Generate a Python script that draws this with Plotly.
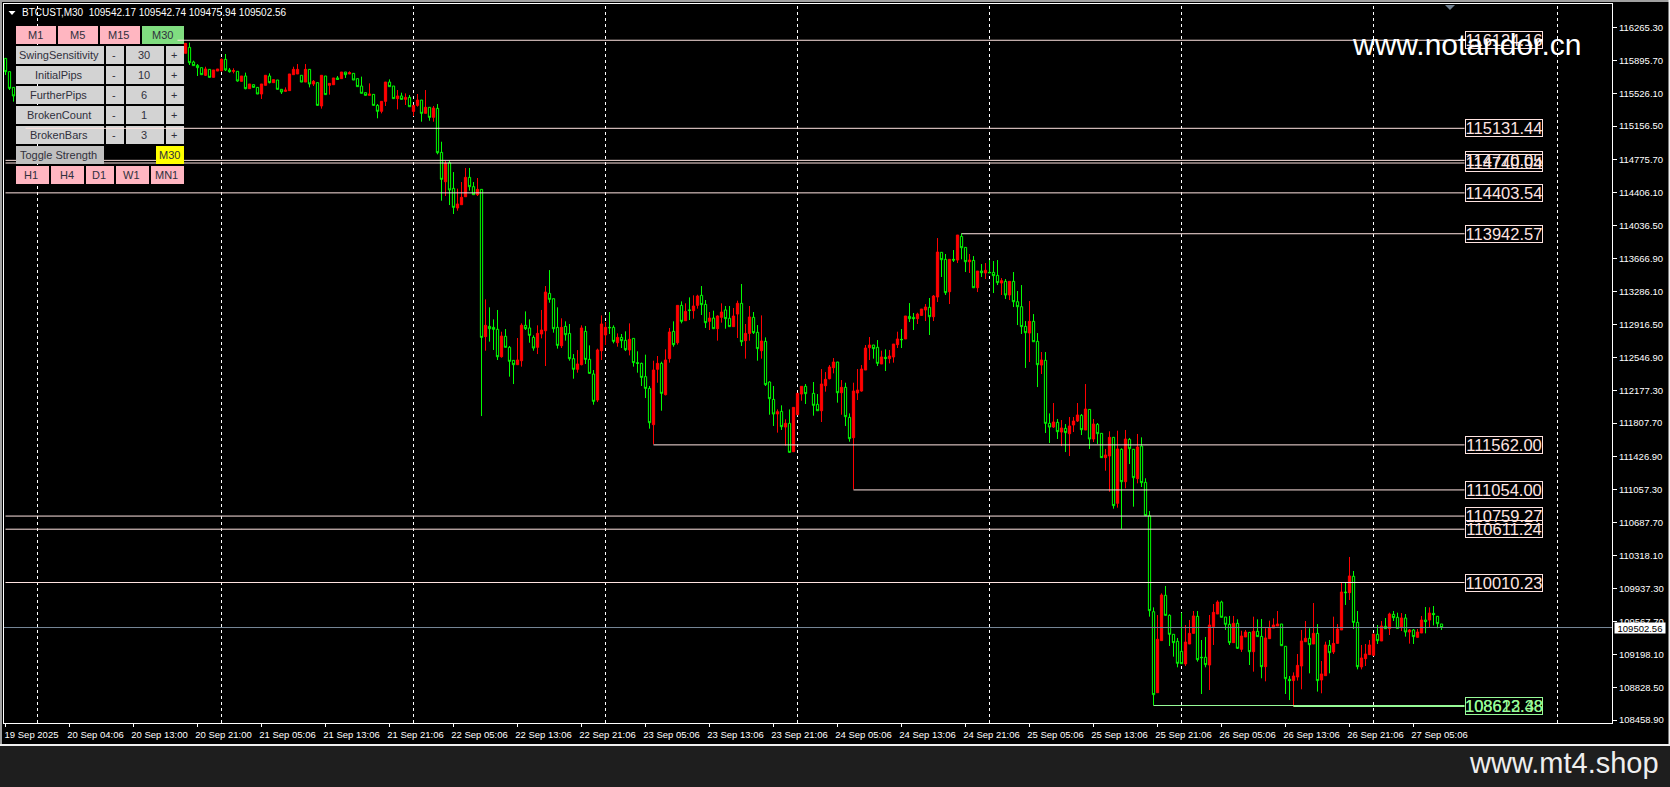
import plotly.graph_objects as go

# bars hidden behind the button panel (4-45) are not in the arrays
bar_no = [1, 2, 3] + list(range(46, 361))

opens = [
    115920, 115770, 115593,
    115977, 116044, 115879, 115841, 115815, 115729, 115796, 115706, 115777, 115781,
    115909, 115789, 115774, 115774, 115661, 115721, 115578, 115623, 115593, 115518,
    115616, 115721, 115646, 115676, 115571, 115548, 115556, 115736, 115744, 115729,
    115653, 115796, 115631, 115646, 115383, 115721, 115616, 115623, 115699, 115691,
    115766, 115744, 115751, 115691, 115608, 115533, 115503, 115514, 115390, 115323,
    115435, 115653, 115608, 115466, 115496, 115458, 115480, 115322, 115390, 115450,
    115300, 115368, 115255, 115356, 114860, 114529, 114744, 114454, 114233, 114270,
    114360, 114578, 114473, 114383, 114443, 112782, 112898, 112887, 112865, 112556,
    112786, 112662, 112515, 112466, 112511, 112910, 112880, 112774, 112662, 112812,
    112849, 113270, 113210, 112887, 112680, 112898, 112819, 112534, 112414, 112466,
    112842, 112526, 112361, 112068, 112624, 112801, 112887, 112887, 112714, 112774,
    112741, 112632, 112763, 112489, 112481, 112331, 112199, 111790, 112414, 112481,
    112128, 112534, 112842, 112714, 113135, 112962, 113083, 113075, 113135, 113248,
    113146, 112955, 112992, 112872, 113000, 113083, 112989, 112895, 113037, 113158,
    112737, 112819, 113000, 112831, 112624, 112729, 112271, 112075, 111910, 111940,
    111763, 111805, 111485, 111902, 112135, 112222, None, 112143, 112019, 111947,
    112229, 112308, 112432, 112496, 112150, 112211, 111872, 111643, 112147, 112169,
    112406, 112658, 112688, 112662, 112474, 112549, 112534, 112553, 112692, 112752,
    112756, 113011, 113000, 112985, 113022, 113083, 113113, 113007, 113229, 113733,
    113654, 113289, 113654, 113646, 113913, 113789, 113627, 113642, 113334, 113522,
    113500, 113507, 113507, 113473, 113387, 113406, 113252, 113406, 113176, 113120,
    112898, 112823, 112955, 112729, 112462, 112515, 111805, 111763, 111816, 111707,
    111748, 111688, 111786, 111831, 111895, 111730, 111962, 111628, 111793, 111692,
    111418, 111437, 111647, 110903, 111512, 111147, 111624, 111512, 111181, 111549,
    111140, 110764, 109681, 108768, 109355, 109866, 109640, 109426, 109347, 109234,
    109092, 109317, 109437, 109629, 109167, 109167, 109080, 109512, 109655, 109790,
    109621, 109539, 109332, 109550, 109257, 109396, 109448, 109230, 109460, 109403,
    109061, 109377, 109497, 109520, 109542, 109291, 108919, 108904, 108945, 109069,
    109343, 109381, 109317, 109437, 108911, 108960, 109302, 109227, 109324, 109475,
    109903, 109896, 110080, 109561, 109058, 109152, 109197, 109189, 109426, 109351,
    109516, 109490, 109651, 109618, 109501, 109610, 109452, 109475, 109392, 109441,
    109587, 109587, 109662, 109629, 109542.17,
]
highs = [
    115920, 115770, 115593,
    116089, 116097, 115894, 115856, 115815, 115826, 115796, 115789, 115800, 115920,
    115969, 115811, 115808, 115774, 115721, 115759, 115631, 115623, 115593, 115631,
    115729, 115751, 115680, 115676, 115571, 115593, 115744, 115826, 115856, 115729,
    115856, 115796, 115676, 115646, 115729, 115721, 115638, 115699, 115721, 115766,
    115766, 115774, 115751, 115691, 115714, 115533, 115638, 115514, 115405, 115435,
    115653, 115683, 115608, 115563, 115533, 115525, 115507, 115390, 115518, 115450,
    115563, 115368, 115383, 115405, 114980, 114766, 114766, 114638, 114451, 114526,
    114684, 114684, 114526, 114571, 114443, 113203, 113113, 112977, 113083, 112838,
    112868, 112677, 112515, 112767, 112932, 113067, 112977, 112797, 112910, 113083,
    113353, 113533, 113210, 113113, 112989, 112955, 112925, 112586, 112631, 112910,
    112902, 112684, 112406, 112647, 113022, 112947, 113060, 112910, 112819, 112812,
    112842, 112932, 112763, 112617, 112489, 112579, 112226, 112511, 112564, 112500,
    112639, 112880, 112955, 113135, 113180, 113158, 113225, 113248, 113255, 113353,
    113195, 113060, 113075, 113022, 113158, 113128, 113128, 113105, 113188, 113376,
    112925, 113128, 113060, 112913, 113022, 112774, 112278, 112226, 111962, 112008,
    111850, 111962, 111985, 112143, 112222, 112248, None, 112271, 112135, 112417,
    112383, 112462, 112541, 112496, 112293, 112263, 111917, 112263, 112417, 112462,
    112688, 112778, 112688, 112744, 112624, 112639, 112632, 112699, 112838, 112868,
    113015, 113161, 113049, 113052, 113094, 113150, 113218, 113252, 113894, 113733,
    113714, 113654, 113759, 113928, 113947, 113789, 113714, 113691, 113522, 113601,
    113612, 113646, 113635, 113646, 113443, 113432, 113406, 113511, 113297, 113364,
    112958, 113184, 113037, 112823, 112609, 112609, 111917, 112034, 111854, 111842,
    111797, 111876, 111876, 112034, 111910, 112248, 111962, 111854, 111808, 111692,
    111516, 111715, 111647, 111722, 111523, 111730, 111640, 111512, 111685, 111647,
    111185, 110816, 109730, 109644, 109888, 109971, 109651, 109426, 109385, 109670,
    109531, 109588, 109689, 109689, 109362, 109396, 109644, 109768, 109809, 109805,
    109621, 109633, 109633, 109595, 109467, 109475, 109448, 109625, 109595, 109599,
    109494, 109580, 109606, 109689, 109542, 109291, 108956, 108997, 109204, 109475,
    109576, 109494, 109779, 109542, 109125, 109343, 109362, 109625, 109542, 110008,
    110008, 110298, 110140, 109689, 109306, 109317, 109362, 109430, 109531, 109576,
    109610, 109670, 109689, 109670, 109666, 109655, 109486, 109486, 109486, 109633,
    109734, 109730, 109745, 109629, 109542.74,
]
lows = [
    115732, 115563, 115432,
    115977, 115845, 115838, 115721, 115736, 115721, 115706, 115706, 115777, 115770,
    115777, 115759, 115751, 115657, 115661, 115571, 115578, 115593, 115518, 115462,
    115616, 115638, 115646, 115571, 115518, 115541, 115556, 115736, 115744, 115653,
    115653, 115593, 115608, 115390, 115353, 115511, 115511, 115623, 115683, 115691,
    115699, 115744, 115676, 115601, 115526, 115503, 115503, 115390, 115244, 115300,
    115383, 115601, 115466, 115345, 115458, 115394, 115375, 115270, 115375, 115206,
    115300, 115217, 115206, 114838, 114315, 114368, 114266, 114165, 114202, 114270,
    114360, 114428, 114383, 114368, 111887, 112624, 112726, 112632, 112519, 112545,
    112662, 112331, 112248, 112466, 112444, 112857, 112714, 112624, 112586, 112763,
    112451, 113165, 112827, 112647, 112654, 112737, 112511, 112308, 112376, 112459,
    112474, 112368, 112015, 112045, 112519, 112688, 112812, 112707, 112669, 112654,
    112620, 112571, 112444, 112376, 112226, 112090, 111745, 111568, 112263, 111947,
    112120, 112489, 112669, 112692, 112932, 112962, 112970, 112985, 113098, 113026,
    112880, 112857, 112872, 112737, 112940, 112872, 112895, 112895, 112767, 112677,
    112534, 112737, 112812, 112511, 112534, 112226, 111902, 111775, 111700, 111730,
    111553, 111474, 111485, 111902, 112060, 112023, None, 111891, 111947, 111820,
    112162, 112301, 112368, 112038, 111902, 111775, 111598, 111060, 112068, 112162,
    112406, 112519, 112534, 112451, 112474, 112395, 112481, 112489, 112654, 112654,
    112756, 112947, 112857, 112925, 113022, 112958, 112801, 112958, 113173, 113455,
    113252, 113150, 113624, 113612, 113654, 113511, 113500, 113334, 113285, 113455,
    113432, 113503, 113274, 113364, 113252, 113207, 113195, 113116, 112913, 112812,
    112429, 112496, 112725, 112214, 112361, 111696, 111583, 111752, 111628, 111549,
    111481, 111436, 111707, 111820, 111673, 111730, 111515, 111594, 111572, 111418,
    111271, 111034, 110843, 110854, 110614, 111072, 111346, 110865, 111128, 111087,
    110764, 109625, 108625, 108768, 109355, 109640, 109294, 109174, 109054, 109095,
    109069, 109317, 109437, 109118, 108753, 109054, 108798, 109306, 109655, 109618,
    109475, 109306, 109332, 109261, 109227, 109396, 109080, 109005, 109400, 108930,
    108896, 109377, 109497, 109520, 109298, 108753, 108685, 108610, 108904, 108806,
    109343, 108986, 109317, 108780, 108761, 108960, 108986, 109204, 109324, 109475,
    109757, 109813, 109486, 109031, 109031, 109069, 109197, 109189, 109317, 109351,
    109490, 109418, 109576, 109493, 109463, 109400, 109321, 109317, 109392, 109441,
    109437, 109505, 109527, 109494, 109475.94,
]
closes = [
    115770, 115582, 115496,
    116089, 115871, 115838, 115815, 115736, 115800, 115706, 115789, 115800, 115909,
    115789, 115770, 115781, 115665, 115721, 115578, 115631, 115593, 115518, 115631,
    115729, 115646, 115680, 115571, 115541, 115563, 115744, 115796, 115796, 115653,
    115796, 115631, 115661, 115390, 115729, 115511, 115638, 115699, 115683, 115766,
    115736, 115759, 115676, 115601, 115526, 115503, 115518, 115390, 115323, 115435,
    115653, 115601, 115466, 115496, 115458, 115480, 115375, 115390, 115450, 115300,
    115368, 115255, 115360, 114856, 114556, 114736, 114436, 114240, 114278, 114353,
    114578, 114473, 114383, 114443, 112774, 112910, 112872, 112865, 112556, 112789,
    112662, 112504, 112466, 112519, 112910, 112872, 112797, 112654, 112819, 112857,
    113285, 113203, 112872, 112684, 112887, 112804, 112534, 112414, 112474, 112880,
    112526, 112368, 112053, 112632, 112925, 112887, 112883, 112729, 112774, 112737,
    112635, 112752, 112489, 112481, 112323, 112199, 111812, 112406, 112481, 112143,
    112519, 112835, 112692, 113135, 112955, 113067, 113079, 113128, 113240, 113143,
    112940, 112992, 112872, 113015, 113060, 112985, 112895, 113015, 113158, 112725,
    112819, 113004, 112827, 112647, 112733, 112241, 112083, 111910, 111936, 111767,
    111805, 111478, 111985, 112143, 112222, 112139, None, 112008, 111947, 112248,
    112301, 112440, 112496, 112150, 112211, 111880, 111632, 112169, 112180, 112417,
    112654, 112688, 112647, 112481, 112553, 112538, 112564, 112699, 112756, 112748,
    113015, 112985, 112985, 113037, 113094, 113116, 113007, 113240, 113736, 113650,
    113278, 113654, 113646, 113928, 113785, 113627, 113646, 113334, 113522, 113503,
    113530, 113503, 113470, 113391, 113413, 113252, 113406, 113176, 113120, 112895,
    112827, 112955, 112725, 112466, 112519, 111805, 111763, 111820, 111711, 111752,
    111700, 111775, 111831, 111899, 111733, 111966, 111628, 111797, 111688, 111418,
    111448, 111647, 110877, 111516, 111147, 111628, 111519, 111192, 111538, 111136,
    110764, 109693, 108746, 109370, 109869, 109640, 109426, 109332, 109099, 109095,
    109339, 109437, 109633, 109140, 109163, 109084, 109531, 109674, 109790, 109618,
    109539, 109332, 109550, 109268, 109407, 109452, 109230, 109460, 109400, 109061,
    109385, 109501, 109531, 109542, 109298, 108926, 108904, 108956, 109076, 109351,
    109381, 109309, 109437, 108904, 108979, 109306, 109219, 109324, 109486, 109903,
    109896, 110084, 109561, 109061, 109159, 109204, 109306, 109430, 109354, 109520,
    109490, 109655, 109614, 109493, 109610, 109452, 109475, 109400, 109452, 109587,
    109569, 109666, 109648, 109546, 109502.56,
]

price_ticks = [
    116265.30, 115895.70, 115526.10, 115156.50, 114775.70, 114406.10, 114036.50,
    113666.90, 113286.10, 112916.50, 112546.90, 112177.30, 111807.70, 111426.90,
    111057.30, 110687.70, 110318.10, 109937.30, 109567.70, 109198.10, 108828.50,
    108458.90,
]
time_labels = [
    "19 Sep 2025", "20 Sep 04:06", "20 Sep 13:00", "20 Sep 21:00", "21 Sep 05:06",
    "21 Sep 13:06", "21 Sep 21:06", "22 Sep 05:06", "22 Sep 13:06", "22 Sep 21:06",
    "23 Sep 05:06", "23 Sep 13:06", "23 Sep 21:06", "24 Sep 05:06", "24 Sep 13:06",
    "24 Sep 21:06", "25 Sep 05:06", "25 Sep 13:06", "25 Sep 21:06", "26 Sep 05:06",
    "26 Sep 13:06", "26 Sep 21:06", "27 Sep 05:06",
]
time_bars = list(range(1, 361, 16))
day_bars = [9, 55, 103, 151, 199, 247, 295, 343, 389]

# swing levels: price, bar the line starts at
back_levels = [114770.05, 114740.04]
back_starts = [1, 1]
front_levels = [116124.16, 115131.44, 114403.54, 113942.57, 111562.00, 111054.00,
                110759.27, 110611.24, 110010.23]
front_starts = [44, 6, 1, 240, 163, 213, 1, 1, 1]
green_levels = [108623.48, 108612.38]
green_starts = [288, 323]
last_price = 109502.56

# plot area in pixels, everything outside it hangs off these
L, R, T, B = 4, 1612, 4, 723
BAR_X0, BAR_DX = 1.5, 4.0
LABEL_BAR = 365.75
PINK, GREY, FRAME, ROSE, PALE = "#ffb6c1", "#d3d3d3", "#ffffff", "#ffe4e1", "#98fb98"


def px_x(x):
    return (x - L) / (R - L)


def px_y(y):
    return (B - y) / (B - T)


fig = go.Figure(
    go.Candlestick(
        x=bar_no,
        open=opens,
        high=highs,
        low=lows,
        close=closes,
        increasing=dict(line=dict(color="#ff0000", width=1), fillcolor="#ff0000"),
        decreasing=dict(line=dict(color="#00ff00", width=1), fillcolor="#000000"),
        whiskerwidth=0,
        hoverinfo="skip",
        showlegend=False,
    )
)

shapes = []
annotations = []


def rect(x0, y0, x1, y1, color):
    shapes.append(dict(type="rect", xref="paper", yref="paper", x0=px_x(x0), x1=px_x(x1),
                       y0=px_y(y0), y1=px_y(y1), fillcolor=color, line=dict(width=0)))


def button(x0, y0, x1, y1, color, text):
    rect(x0, y0, x1, y1, color)
    if text:
        annotations.append(dict(xref="paper", yref="paper", x=px_x((x0 + x1) / 2 - 1), xanchor="center",
                                y=px_y((y0 + y1) / 2), yanchor="middle", text=text, showarrow=False,
                                font=dict(family="Liberation Sans", size=11, color="#30303c")))


def level(price, start, color, width=1):
    shapes.append(dict(type="line", xref="x", yref="y", x0=start, x1=LABEL_BAR, y0=price, y1=price,
                       line=dict(color=color, width=width)))
    annotations.append(dict(xref="x", yref="y", x=LABEL_BAR, y=price, xanchor="left", yanchor="middle",
                            text=f"{price:.2f}", showarrow=False, width=76, height=16,
                            borderwidth=1, bordercolor=color, borderpad=0,
                            font=dict(family="Liberation Sans", size=16.5, color=color)))


# day separators sit behind the candles
for bar in day_bars:
    shapes.append(dict(type="line", xref="x", yref="paper", x0=bar, x1=bar, y0=0, y1=1, layer="below",
                       line=dict(color="#ffffff", width=1, dash="3px,3px")))

shapes.append(dict(type="line", xref="paper", yref="y", x0=0, x1=1, y0=last_price, y1=last_price,
                   line=dict(color="#778899", width=1)))

for price, start in zip(back_levels, back_starts):
    level(price, start, ROSE)

# button panel
for x0, x1, text, color in [(16, 56, "M1", PINK), (58, 98, "M5", PINK), (100, 140, "M15", PINK),
                            (142, 184, "M30", "#80dd80")]:
    button(x0, 26, x1, 44, color, text)
for top, name, value in [(46, "SwingSensitivity", "30"), (66, "InitialPips", "10"), (86, "FurtherPips", "6"),
                         (106, "BrokenCount", "1"), (126, "BrokenBars", "3")]:
    button(16, top, 104, top + 18, GREY, name)
    button(106, top, 124, top + 18, GREY, "-")
    button(126, top, 164, top + 18, GREY, value)
    button(166, top, 184, top + 18, GREY, "+")
button(16, 146, 104, 164, "#c0c0c0", "Toggle Strength")
button(156, 146, 184, 164, "#ffff00", "M30")
for x0, x1, text in [(16, 49, "H1"), (51, 84, "H4"), (86, 114, "D1"), (116, 149, "W1"), (151, 184, "MN1")]:
    button(x0, 166, x1, 184, PINK, text)

for price, start in zip(front_levels, front_starts):
    level(price, start, ROSE)
for price, start in zip(green_levels, green_starts):
    level(price, start, PALE)

# window chrome
rect(0, 0, 1670, 2, "#a0a0a0")
rect(0, 0, 2, 745, "#a0a0a0")
rect(1668.5, 0, 1670, 745, "#f0f0f0")
rect(0, 744, 1670, 746, "#f0f0f0")
rect(0, 746, 1670, 787, "#1e1e1e")

# one-click triangle, shift marker
shapes.append(dict(type="path", xref="paper", yref="paper", line=dict(width=0), fillcolor="#ffffff",
                   path=f"M {px_x(8.5)} {px_y(11)} L {px_x(15.5)} {px_y(11)} L {px_x(12)} {px_y(15)} Z"))
shapes.append(dict(type="path", xref="paper", yref="paper", line=dict(width=0), fillcolor="#708090",
                   path=f"M {px_x(1445)} {px_y(5)} L {px_x(1455)} {px_y(5)} L {px_x(1450)} {px_y(10)} Z"))

annotations.append(dict(xref="paper", yref="paper", x=px_x(20), y=px_y(12.7), xanchor="left", yanchor="middle",
                        showarrow=False, text="BTCUST,M30  109542.17 109542.74 109475.94 109502.56",
                        font=dict(family="Liberation Sans", size=10, color="#ffffff")))
annotations.append(dict(xref="paper", yref="y", x=px_x(1614), y=last_price, xanchor="left", yanchor="middle",
                        showarrow=False, text=f"{last_price:.2f}", bgcolor="#ffffff", borderpad=0, width=50, height=10,
                        font=dict(family="Liberation Sans", size=9.5, color="#000000")))
annotations.append(dict(xref="paper", yref="paper", x=px_x(1349.5), y=px_y(44.5), xanchor="left", yanchor="middle",
                        showarrow=False, text="www.notandor.cn",
                        font=dict(family="Liberation Sans", size=30, color="#ffffff")))
annotations.append(dict(xref="paper", yref="paper", x=px_x(1467), y=px_y(763), xanchor="left", yanchor="middle",
                        showarrow=False, text="www.mt4.shop",
                        font=dict(family="Liberation Sans", size=29, color="#eeeeee")))

fig.update_layout(
    width=1670,
    height=787,
    margin=dict(l=L, r=1670 - R, t=T, b=787 - B, pad=0),
    paper_bgcolor="#000000",
    plot_bgcolor="#000000",
    font=dict(family="Liberation Sans", size=9.5, color="#ffffff"),
    showlegend=False,
    boxgap=0.25,
    boxgroupgap=0.25,
    shapes=shapes,
    annotations=annotations,
)
fig.update_xaxes(
    type="linear",
    range=[(L - BAR_X0) / BAR_DX, (R - BAR_X0) / BAR_DX],
    rangeslider_visible=False,
    tickmode="array",
    tickvals=time_bars,
    ticktext=time_labels,
    ticks="outside",
    ticklen=3,
    tickcolor=FRAME,
    ticklabelshift=26,
    showgrid=False,
    zeroline=False,
    showline=True,
    linecolor=FRAME,
    mirror=True,
    tickfont=dict(size=9.5, color="#ffffff"),
)
fig.update_yaxes(
    side="right",
    range=[116578 - 11.275 * B, 116578 - 11.275 * T],
    tickmode="array",
    tickvals=price_ticks,
    ticktext=[f"{t:.2f}" for t in price_ticks],
    ticks="outside",
    ticklen=4,
    tickcolor=FRAME,
    showgrid=False,
    zeroline=False,
    showline=True,
    linecolor=FRAME,
    mirror=True,
    tickfont=dict(size=9.5, color="#ffffff"),
)

fig.write_html("out.html", config={"displayModeBar": False}, post_script="document.body.style.margin='0';")
